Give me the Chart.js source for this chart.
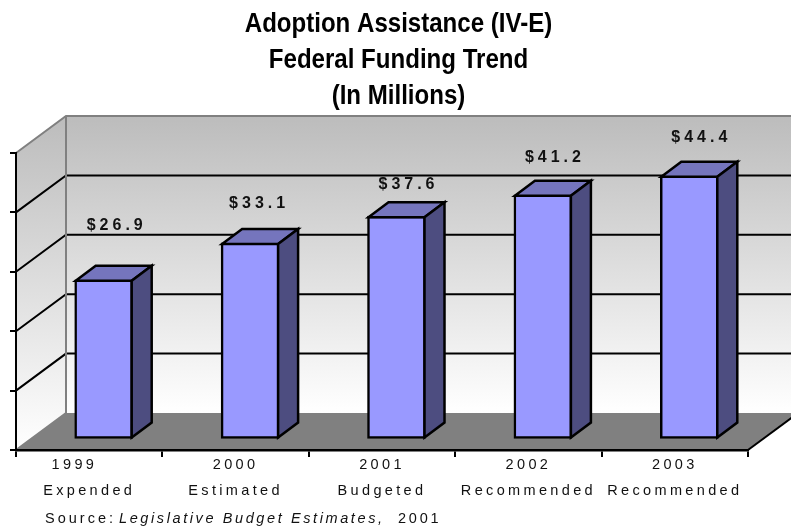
<!DOCTYPE html>
<html><head><meta charset="utf-8">
<style>html,body{margin:0;padding:0;background:#fff}canvas{display:block}</style>
<script src="https://cdn.jsdelivr.net/npm/chart.js@4"></script>
</head><body>
<canvas id="c" width="791" height="529"></canvas>
<script>
const titleLines = ['Adoption Assistance (IV-E)', 'Federal Funding Trend', '(In Millions)'];
const years = ['1999', '2000', '2001', '2002', '2003'];
const stages = ['Expended', 'Estimated', 'Budgeted', 'Recommended', 'Recommended'];
const funding = [26.9, 33.1, 37.6, 41.2, 44.4];
const valueLabels = ['$26.9', '$33.1', '$37.6', '$41.2', '$44.4'];
const sourceParts = ['Source:', 'Legislative Budget Estimates,', '2001'];
const labelNudgeX = [13, 9, 12, 12, 12];
const labelNudgeY = [-54, -39, -32, -37, -38];

const SANS = '"Liberation Sans", Arial, sans-serif';
const wall = {dx: 50, dy: -37};
const barShift = {dx: 14.5, dy: -10.5};
const depth = {dx: 20, dy: -15};
const titleSqueeze = 0.875;

const threeD = {
  id: 'threeD',
  afterLayout(chart) {
    const t = chart.titleBlock;
    t.left = 6; t.right = 791;
    if (!t._squeezed) {
      t._squeezed = true;
      const origT = t.draw;
      t.draw = function () {
        const c = this.ctx, cx = (this.left + this.right) / 2;
        c.save();
        c.translate(cx, 0); c.scale(titleSqueeze, 1); c.translate(-cx, 0);
        origT.call(this);
        c.restore();
      };
    }
    const x = chart.scales.x;
    if (!x._spaced) {
      x._spaced = true;
      const orig = x.drawLabels;
      x.drawLabels = function (a) {
        this.ctx.save();
        this.ctx.letterSpacing = '3.35px';
        orig.call(this, a);
        this.ctx.restore();
      };
    }
  },
  beforeDraw(chart) {
    const {ctx, scales: {x, y}} = chart;
    const L = x.left, R = x.right, B = y.bottom, T = y.top;
    const bT = T + wall.dy, bB = B + wall.dy, bL = L + wall.dx, W = chart.width;
    ctx.save();
    const g = ctx.createLinearGradient(0, bT, 0, bB);
    g.addColorStop(0, '#bcbcbc');
    g.addColorStop(1, '#ffffff');
    ctx.fillStyle = g;
    ctx.fillRect(bL, bT, W - bL, bB - bT);
    const g2 = ctx.createLinearGradient(0, T + wall.dy, 0, B);
    g2.addColorStop(0, '#bcbcbc');
    g2.addColorStop(1, '#ffffff');
    ctx.fillStyle = g2;
    ctx.beginPath();
    ctx.moveTo(L, T); ctx.lineTo(bL, bT); ctx.lineTo(bL, bB); ctx.lineTo(L, B);
    ctx.closePath(); ctx.fill();
    // floor
    ctx.fillStyle = '#808080';
    ctx.beginPath();
    ctx.moveTo(L, B); ctx.lineTo(bL, bB); ctx.lineTo(W + 5, bB); ctx.lineTo(W + 5, B + wall.dy + 4);
    ctx.lineTo(R, B); ctx.closePath(); ctx.fill();
    // white wedge right of floor edge
    ctx.fillStyle = '#fff';
    ctx.beginPath();
    ctx.moveTo(R, B); ctx.lineTo(R + wall.dx, B + wall.dy);
    ctx.lineTo(W + 5, B + wall.dy - 3); ctx.lineTo(W + 5, B); ctx.closePath(); ctx.fill();
    // right floor edge
    ctx.strokeStyle = '#000'; ctx.lineWidth = 2;
    ctx.beginPath();
    ctx.moveTo(R, B);
    ctx.lineTo(R + wall.dx, B + wall.dy);
    ctx.stroke();
    // grid
    ctx.strokeStyle = '#000'; ctx.lineWidth = 2;
    y.ticks.forEach(t => {
      if (t.value === 0 || t.value === y.max) return;
      const p = y.getPixelForValue(t.value);
      ctx.beginPath();
      ctx.moveTo(L, p); ctx.lineTo(bL, p + wall.dy); ctx.lineTo(W, p + wall.dy);
      ctx.stroke();
    });
    // wall edges
    ctx.strokeStyle = '#808080'; ctx.lineWidth = 2;
    ctx.beginPath();
    ctx.moveTo(L, T); ctx.lineTo(bL, bT); ctx.lineTo(W, bT);
    ctx.moveTo(bL, bT); ctx.lineTo(bL, bB); ctx.lineTo(L, B);
    ctx.stroke();
    ctx.restore();
  },
  beforeDatasetDraw(chart) {
    chart.ctx.save();
    chart.ctx.translate(barShift.dx, barShift.dy);
  },
  afterDatasetDraw(chart, args) {
    const ctx = chart.ctx;
    ctx.lineWidth = 2.5; ctx.strokeStyle = '#000'; ctx.lineJoin = 'miter';
    args.meta.data.forEach(el => {
      const l = el.x - el.width / 2 + 1, r = el.x + el.width / 2 - 1, t = el.y + 1, b = el.base - 1;
      ctx.fillStyle = '#7575BD';
      ctx.beginPath();
      ctx.moveTo(l, t); ctx.lineTo(l + depth.dx, t + depth.dy); ctx.lineTo(r + depth.dx, t + depth.dy); ctx.lineTo(r, t);
      ctx.closePath(); ctx.fill(); ctx.stroke();
      ctx.fillStyle = '#4D4D80';
      ctx.beginPath();
      ctx.moveTo(r, t); ctx.lineTo(r + depth.dx, t + depth.dy); ctx.lineTo(r + depth.dx, b + depth.dy); ctx.lineTo(r, b);
      ctx.closePath(); ctx.fill(); ctx.stroke();
    });
    ctx.restore();
  },
  afterDraw(chart) {
    const ctx = chart.ctx;
    const meta = chart.getDatasetMeta(0);
    ctx.save();
    ctx.fillStyle = '#111';
    ctx.textBaseline = 'middle';
    ctx.textAlign = 'center';
    ctx.font = 'bold 16px ' + SANS;
    ctx.letterSpacing = '4px';
    meta.data.forEach((el, i) => {
      ctx.fillText(valueLabels[i], el.x + barShift.dx + labelNudgeX[i], el.y + barShift.dy + labelNudgeY[i]);
    });
    ctx.textAlign = 'left';
    ctx.letterSpacing = '3px';
    ctx.font = '14.5px ' + SANS;
    ctx.fillText(sourceParts[0], 45, 519);
    ctx.font = 'italic 14.5px ' + SANS;
    ctx.letterSpacing = '2.6px';
    ctx.fillText(sourceParts[1], 119, 519);
    ctx.font = '14.5px ' + SANS;
    ctx.letterSpacing = '2.8px';
    ctx.fillText(sourceParts[2], 398, 519);
    ctx.restore();
  }
};

new Chart(document.getElementById('c'), {
  type: 'bar',
  data: {
    labels: years.map((yr, i) => [i === 0 ? yr + '    ' : yr, stages[i]]),
    datasets: [{
      data: funding,
      backgroundColor: '#9999FF',
      borderColor: '#000',
      borderWidth: 2.5,
      borderSkipped: false,
      barThickness: 58,
      clip: false
    }]
  },
  options: {
    responsive: false,
    animation: false,
    devicePixelRatio: 1,
    layout: {padding: {left: 0, right: 43, top: 0, bottom: 0}},
    plugins: {
      legend: {display: false},
      tooltip: {enabled: false},
      title: {
        display: true,
        text: titleLines,
        color: '#000',
        font: {family: SANS, weight: 'bold', size: 27.5, lineHeight: 36 / 27.5},
        padding: {top: 6.5, bottom: 38.5}
      }
    },
    scales: {
      x: {
        grid: {display: true, drawOnChartArea: false, drawTicks: true, tickLength: 7, color: '#000', lineWidth: 2, offset: true},
        border: {display: true, color: '#000', width: 2.5},
        ticks: {autoSkip: false, maxRotation: 0, minRotation: 0, padding: -5, color: '#111',
          font: {family: SANS, size: 14.5, lineHeight: 26 / 14.5}},
        afterFit(s) { s.height = 79; }
      },
      y: {
        min: 0, max: 50,
        grid: {display: true, drawOnChartArea: false, drawTicks: true, tickLength: 6, color: '#000', lineWidth: 2},
        border: {display: true, color: '#000', width: 2},
        ticks: {display: false, stepSize: 10},
        afterFit(s) { s.width = 16; }
      }
    }
  },
  plugins: [threeD]
});
</script>
</body></html>
